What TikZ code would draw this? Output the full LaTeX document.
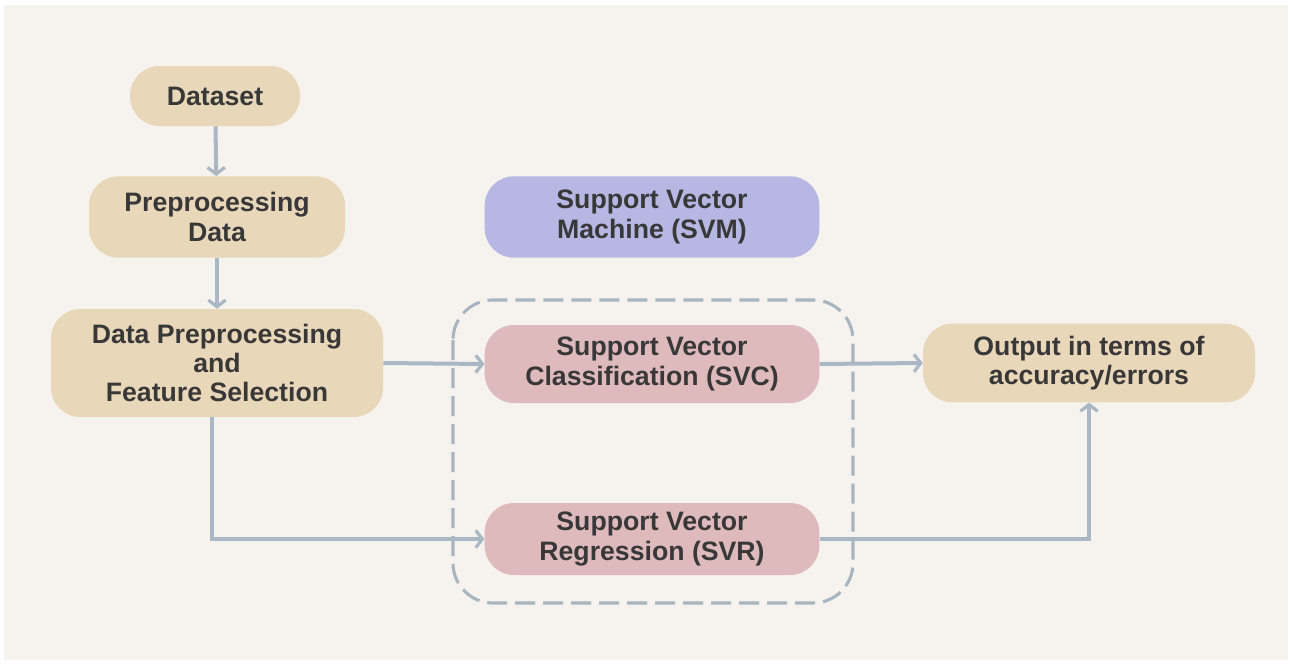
\documentclass[tikz,border=0pt]{standalone}
\usepackage{fontspec}
\setmainfont{Liberation Sans}
\usepackage{tikz}
\usetikzlibrary{
    arrows.meta,
    calc,
    positioning
}
\definecolor{paper}{HTML}{F6F3EE}
\definecolor{sand}{HTML}{E9D7BA}
\definecolor{lilac}{HTML}{B6B7E2}
\definecolor{rose}{HTML}{DFBABD}
\definecolor{steel}{HTML}{A9B8C4}
\definecolor{ink}{HTML}{383838}

\begin{document}
\begin{tikzpicture}[x=0.75pt, y=-0.75pt,
        block/.style={rounded corners=22pt, inner sep=0pt, align=center, text=ink,
            font=\fontsize{20}{22}\selectfont\bfseries},
        stage/.style={block, fill=sand},
        model/.style={block, fill=lilac},
        method/.style={block, fill=rose},
        flow/.style={draw=steel, line width=3pt, -{Straight Barb[length=5pt, width=13pt, line width=2.4pt]}},
        groupbox/.style={draw=steel!95!gray, line width=2.3pt, rounded corners=30pt, dash pattern=on 15pt off 6pt}]
                                % page and background
                                \fill[white] (0, 0) rectangle (1292, 664);
                                \fill[paper] (4, 5) rectangle (1288, 660);
                                % nodes
                                \node[stage, minimum width=127.5pt, minimum height=45pt] (data) at (215, 96) {Dataset};
                                \node[stage, minimum width=192pt, minimum height=61pt] (prep) at (217, 217) {Preprocessing\\Data};
                                \node[stage, minimum width=249pt, minimum height=81pt] (feat) at (217, 363) {Data Preprocessing\\and\\Feature Selection};
                                \node[model, minimum width=251pt, minimum height=61pt] (svm) at (652, 217) {Support Vector\\Machine (SVM)};
                                \node[method, minimum width=251pt, minimum height=58.5pt] (svc) at (652, 364) {Support Vector\\Classification (SVC)};
                                \node[method, minimum width=251pt, minimum height=54pt] (svr) at (652, 539) {Support Vector\\Regression (SVR)};
                                \node[stage, minimum width=249pt, minimum height=59pt] (out) at (1089, 363) {Output in terms of\\accuracy/errors};
                                % dashed group
                                \draw[groupbox] (453, 300) rectangle (853, 603);
                                % connectors
                                \draw[flow] (data) -- (prep);
                                \draw[flow] (prep) -- (feat);
                                \draw[flow] (feat.east) -- (svc.west);
                                \draw[flow] ([xshift=-3.5pt]feat.south) |- (svr.west);
                                \draw[flow] (svc.east) -- (out.west);
                                \draw[flow] (svr.east) -| (out.south);
                            \end{tikzpicture}
\end{document}
